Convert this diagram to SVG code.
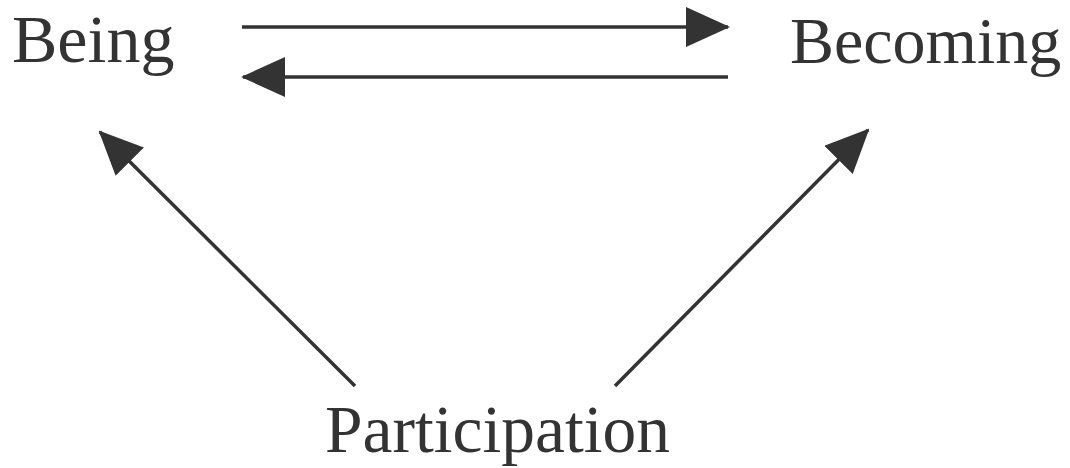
<svg xmlns="http://www.w3.org/2000/svg" width="1070" height="468" viewBox="0 0 1070 468">
  <style>
    .label { font-family: "Liberation Serif", "Times New Roman", serif; font-size: 66px; fill: #333333; }
    .conn { stroke: #333333; stroke-width: 3.5; fill: none; marker-end: url(#arrow); }
  </style>
  <defs>
    <marker id="arrow" markerUnits="userSpaceOnUse" markerWidth="44" markerHeight="40" refX="42" refY="20" orient="auto" viewBox="0 0 44 40">
      <path d="M0,0 L44,20 L0,40 Z" fill="#333333"/>
    </marker>
  </defs>
  <rect width="1070" height="468" fill="#ffffff"/>
  <g id="node-being"><text class="label" x="12" y="62" style="font-size:68px">Being</text></g>
  <g id="node-becoming"><text class="label" x="790" y="63">Becoming</text></g>
  <g id="node-participation"><text class="label" x="325" y="452" style="font-size:67.5px">Participation</text></g>
  <g id="connectors">
    <line class="conn" x1="242" y1="27" x2="728" y2="27"/>
    <line class="conn" x1="728" y1="77" x2="243" y2="77"/>
    <line class="conn" x1="355" y1="386" x2="100" y2="132"/>
    <line class="conn" x1="615" y1="386" x2="868" y2="130"/>
  </g>
</svg>
